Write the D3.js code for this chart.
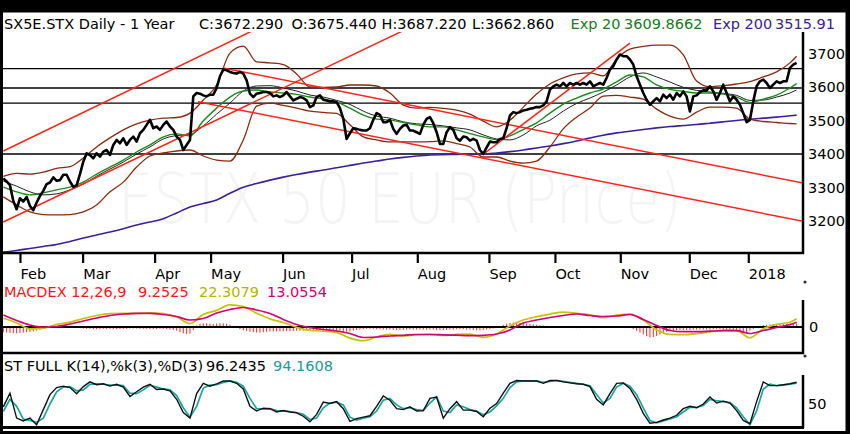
<!DOCTYPE html>
<html>
<head>
<meta charset="utf-8">
<script src="https://cdnjs.cloudflare.com/ajax/libs/d3/7.8.5/d3.min.js"></script>
<style>
    body { margin: 0; background: #000; }
    svg { display: block; }
    text { font-family: "DejaVu Sans", Verdana, sans-serif; }
</style>
</head>
<body>
<svg id="chart"></svg>
<script>
// daily closes, one per bar (index 0 = late Jan 2017)
var price = [
    3327, 3318, 3307, 3260, 3235, 3268, 3258, 3272, 3245, 3232,
    3255, 3275, 3290, 3310, 3315, 3330, 3320, 3322, 3338, 3338,
    3318, 3302, 3306, 3340, 3377, 3402, 3397, 3387, 3402, 3392,
    3407, 3412, 3397, 3427, 3442, 3432, 3447, 3427, 3442, 3452,
    3437, 3462, 3472, 3487, 3502, 3477, 3482, 3472, 3487, 3497,
    3482, 3472, 3452, 3442, 3412, 3427, 3442, 3572, 3582, 3580,
    3575, 3572, 3577, 3577, 3597, 3632, 3652, 3650, 3645, 3642,
    3640, 3645, 3640, 3620, 3580, 3570, 3580, 3582, 3585, 3585,
    3582, 3572, 3575, 3570, 3575, 3585, 3572, 3560, 3565, 3570,
    3567, 3560, 3540, 3545, 3570, 3575, 3562, 3560, 3557, 3557,
    3555, 3537, 3505, 3445, 3462, 3477, 3475, 3472, 3470, 3470,
    3477, 3502, 3522, 3517, 3495, 3495, 3502, 3475, 3460, 3475,
    3485, 3487, 3470, 3470, 3465, 3460, 3487, 3505, 3510, 3492,
    3465, 3430, 3430, 3465, 3480, 3472, 3447, 3440, 3452, 3450,
    3440, 3445, 3440, 3412, 3400, 3420, 3437, 3435, 3435, 3445,
    3447, 3477, 3515, 3525, 3522, 3525, 3530, 3532, 3535, 3537,
    3540, 3540, 3545, 3557, 3592, 3602, 3607, 3602, 3612, 3602,
    3612, 3607, 3612, 3607, 3612, 3607, 3617, 3602, 3607, 3612,
    3607, 3627, 3652, 3662, 3682, 3697, 3692, 3692, 3682, 3667,
    3632, 3607, 3582, 3562, 3547, 3557, 3567, 3557, 3577, 3567,
    3577, 3562, 3582, 3572, 3587, 3572, 3527, 3572, 3575, 3585,
    3590, 3590, 3602, 3587, 3562, 3582, 3607, 3582, 3557, 3572,
    3562, 3547, 3522, 3495, 3502, 3557, 3602, 3617, 3622, 3612,
    3597, 3607, 3617, 3612, 3617, 3617, 3657, 3667, 3672.29
];

// smooth studies are read every 4 bars
var knots = d3.range(0, 237, 4).concat([238]);

var ema20 = [3301, 3287, 3278, 3284, 3293, 3301, 3316, 3340, 3361, 3382,
    3406, 3427, 3451, 3460, 3454, 3499, 3537, 3570, 3588, 3591,
    3585, 3582, 3578, 3570, 3564, 3555, 3537, 3516, 3504, 3501,
    3494, 3487, 3481, 3481, 3472, 3461, 3451, 3443, 3454, 3473,
    3493, 3522, 3549, 3567, 3582, 3594, 3615, 3636, 3630, 3606,
    3593, 3587, 3582, 3582, 3579, 3570, 3554, 3564, 3576, 3597, 3610];

var sma20 = [3319, 3304, 3287, 3278, 3281, 3293, 3310, 3334, 3355, 3376,
    3400, 3421, 3445, 3455, 3458, 3484, 3519, 3552, 3588, 3603,
    3604, 3597, 3588, 3576, 3570, 3560, 3548, 3528, 3513, 3507,
    3496, 3490, 3488, 3484, 3478, 3472, 3457, 3445, 3442, 3457,
    3484, 3501, 3528, 3551, 3567, 3585, 3606, 3630, 3642, 3630,
    3615, 3599, 3590, 3585, 3581, 3575, 3560, 3561, 3570, 3582, 3591];

var bbUpper = [3333, 3342, 3340, 3346, 3357, 3362, 3388, 3421, 3448, 3472,
    3490, 3501, 3507, 3509, 3522, 3561, 3606, 3701, 3722, 3675,
    3672, 3667, 3639, 3600, 3599, 3600, 3606, 3606, 3603, 3582,
    3546, 3537, 3539, 3536, 3531, 3519, 3498, 3481, 3501, 3540,
    3579, 3609, 3627, 3639, 3642, 3633, 3684, 3713, 3721, 3725,
    3725, 3696, 3618, 3601, 3604, 3609, 3616, 3630, 3645, 3672, 3692];

var bbLower = [3272, 3248, 3227, 3219, 3218, 3219, 3227, 3248, 3287, 3316,
    3361, 3394, 3403, 3409, 3412, 3394, 3382, 3379, 3442, 3543,
    3552, 3545, 3537, 3528, 3524, 3521, 3487, 3451, 3442, 3436,
    3436, 3436, 3437, 3439, 3431, 3421, 3391, 3391, 3379, 3373,
    3379, 3421, 3475, 3510, 3537, 3573, 3575, 3570, 3564, 3534,
    3513, 3504, 3525, 3540, 3540, 3537, 3504, 3497, 3494, 3491, 3490];

var ema200 = [3107, 3112, 3118, 3124, 3130, 3139, 3149, 3158, 3167, 3177,
    3188, 3197, 3207, 3224, 3242, 3252, 3263, 3283, 3301, 3312,
    3322, 3331, 3339, 3346, 3352, 3359, 3366, 3373, 3379, 3385,
    3390, 3394, 3397, 3398, 3399, 3400, 3400, 3403, 3407, 3412,
    3418, 3424, 3431, 3439, 3448, 3456, 3463, 3468, 3473, 3478,
    3482, 3485, 3488, 3492, 3496, 3500, 3504, 3507, 3510, 3514, 3516];

var macd = [23.5, 11, -5, -3, 7, 13, 23, 31, 36, 37,
    37, 38, 36, 27, 9, 34, 45, 60, 55, 37,
    22, 12, -1, -9, -11, -15, -30, -37, -27, -20,
    -24, -21, -20, -23, -20, -19, -28, -19, 3, 19,
    28, 35, 40, 37, 33, 25, 32, 35, 19, -8,
    -20, -21, -18, -13, -9, -10, -29, -5, 7, 13, 22.3];

var signal = [32.4, 17.6, 5.4, -0.5, 1.4, 8.1, 16.2, 24.3, 31.1, 35.1,
    37, 37, 33.8, 28.4, 18.9, 23, 37.8, 47.3, 52.7, 46,
    36.5, 20.3, 6.8, -1.4, -6.8, -10.8, -17.6, -28.4, -27, -24.3,
    -22.4, -20.3, -20.3, -21.1, -22.2, -23.2, -22.4, -18.9, -8.1, 10.8,
    18.9, 25.7, 31.1, 35.1, 31.1, 28.4, 29.7, 33.8, 20.3, 4.1,
    -9.5, -12.7, -12.7, -11.4, -10, -10, -17.6, -9.5, -1.4, 6.8, 13.06];

// histogram, one per bar
var hist = [
    -14, -15, -16, -17, -17, -16, -15, -14, -13, -12, -10, -8,
    -5, -3, -1, 1, 2, 2, 2, 1, 0, -1, -2, -3,
    -4, -5, -5, -6, -6, -6, -5, -5, -5, -6, -6, -6, -5, -5, -4, -4, -4, -5, -5, -5, -6, -6, -6, -5, -5, -6, -7, -8, -10,
    -14, -17, -19, -18, -8, 4,
    8, 10, 10, 9, 8, 9, 10, 10, 9, 6, 3,
    -2, -6, -9, -11, -13, -14, -15, -15, -14, -13, -12, -12, -12, -12, -12, -11, -11, -11, -10, -10, -10, -10, -9, -9, -9, -9, -9, -10, -11, -12, -13,
    -14, -14, -13, -12, -10, -8, -7, -6, -5, -5, -5, -6, -6, -7, -7, -7, -8, -8, -8, -8, -7, -7, -7, -7, -7, -7, -7,
    -7, -7, -8, -8, -8, -8, -7, -7, -6, -6, -6, -7, -7, -8, -9, -9, -8, -7, -6, -4, -1, 3, 6, 9,
    11, 12, 12, 11, 10, 9, 8, 7, 6,
    5, 4, 3, 2, 2, 1, 1, 0, -1, -2, -3, -3, -3, -2, -2, -2, -3, -3, -2, -1, 0, 1, 2, 2, 1, 0, -1, -3, -6,
    -10, -15, -20, -25, -28, -27, -24, -20, -16,
    -13, -11, -10, -9, -8, -8, -8, -8, -7, -7, -7, -7, -7, -7, -6, -6, -6, -7, -8, -9, -10, -12, -14, -15, -14, -10,
    -5, 0, 3, 5, 6, 7, 8, 8, 8, 8, 8, 8, 9, 9
];

// stochastics read every 2 bars
var stochIdx = d3.range(0, 239, 2);
var stochK = [44, 73, 20, 14, 20, 6, 38, 70, 85, 88,
    85, 72, 87, 97, 91, 93, 88, 92, 86, 66,
    76, 86, 92, 81, 82, 78, 60, 32, 20, 72,
    94, 88, 93, 99, 99, 94, 82, 45, 35, 41,
    40, 33, 36, 33, 31, 24, 12, 28, 54, 51,
    55, 40, 13, 19, 22, 25, 45, 67, 58, 40,
    38, 44, 35, 36, 62, 65, 20, 40, 55, 37,
    37, 34, 23, 41, 51, 73, 94, 100, 99, 99,
    99, 94, 100, 100, 97, 95, 93, 92, 87, 60,
    48, 72, 94, 95, 83, 60, 30, 9, 11, 16,
    20, 26, 40, 45, 42, 50, 65, 52, 56, 52,
    36, 15, 8, 55, 97, 89, 89, 91, 93, 96.24];
var stochD = [34, 60, 45, 18, 15, 11, 20, 50, 76, 86,
    87, 78, 80, 92, 93, 92, 90, 90, 89, 73,
    72, 80, 90, 86, 82, 80, 68, 42, 22, 45,
    84, 90, 91, 96, 99, 96, 88, 62, 40, 39,
    40, 36, 35, 34, 32, 28, 17, 20, 42, 52,
    54, 48, 22, 16, 20, 23, 35, 58, 62, 48,
    40, 42, 38, 36, 52, 65, 35, 32, 48, 44,
    38, 35, 27, 33, 46, 62, 85, 97, 99, 99,
    99, 96, 98, 100, 98, 96, 94, 92, 89, 70,
    52, 62, 86, 94, 88, 70, 42, 15, 10, 14,
    18, 23, 33, 43, 43, 47, 60, 57, 55, 53,
    42, 23, 6, 35, 82, 92, 89, 90, 92, 94.16];

// drawn trend lines: [bar, value, bar, value]
var trendLines = [
    [0, 3409, 90, 3841],
    [0, 3197, 130, 3816],
    [144.5, 3403, 188, 3731],
    [65.9, 3657, 240, 3313],
    [58.4, 3556, 240, 3199]
];
var levels = [3655, 3597, 3552, 3400];

var monthIdx = [5, 23.8, 45.4, 62.2, 83.8, 104.5, 124.2, 145.7, 165.5, 185.1, 205.8, 223.5];
var monthLabels = ["Feb", "Mar", "Apr", "May", "Jun", "Jul", "Aug", "Sep", "Oct", "Nov", "Dec", "2018"];
var priceTicks = [3200, 3300, 3400, 3500, 3600, 3700];

var svg = d3.select("#chart")
    .attr("width", 850)
    .attr("height", 434)
    .style("background", "#fff");

var plotLeft = 3, plotRight = 803;
var x = d3.scaleLinear().domain([0, price.length - 1]).range([3.3, 796.6]);
var y = d3.scaleLinear().domain([3400, 3700]).range([154, 53.5]);
var yMacd = d3.scaleLinear().domain([-70, 70]).range([352.9, 301.1]);
var yStoch = d3.scaleLinear().domain([0, 100]).range([427.5, 380.5]);

var defs = svg.append("defs");
defs.append("clipPath").attr("id", "clipMain").append("rect")
    .attr("x", plotLeft).attr("y", 32).attr("width", plotRight - plotLeft).attr("height", 221);
defs.append("clipPath").attr("id", "clipMacd").append("rect")
    .attr("x", plotLeft).attr("y", 299).attr("width", plotRight - plotLeft).attr("height", 53);
defs.append("clipPath").attr("id", "clipStoch").append("rect")
    .attr("x", plotLeft).attr("y", 374).attr("width", plotRight - plotLeft).attr("height", 53);

// watermark, squeezed horizontally
svg.append("text")
    .attr("transform", "translate(118,223) scale(0.8,1)")
    .style("font-size", "70px")
    .style("font-weight", 200)
    .attr("fill", "#f4f4f4")
    .text("ESTX 50 EUR (Price)");

var main = svg.append("g").attr("clip-path", "url(#clipMain)");

main.selectAll(".level")
    .data(levels)
    .enter().append("line")
    .attr("x1", plotLeft).attr("x2", plotRight)
    .attr("y1", function (d) { return y(d); })
    .attr("y2", function (d) { return y(d); })
    .attr("stroke", "#000")
    .attr("stroke-width", 1.3);

function knotLine(scale) {
    return d3.line()
        .x(function (d, i) { return x(knots[i]); })
        .y(function (d) { return scale(d); })
        .curve(d3.curveMonotoneX);
}

main.append("path").datum(ema200)
    .attr("fill", "none").attr("stroke", "#3c1fa0").attr("stroke-width", 1.6)
    .attr("d", knotLine(y));

main.selectAll(".bb")
    .data([bbUpper, bbLower])
    .enter().append("path")
    .attr("fill", "none").attr("stroke", "#8b2b0e").attr("stroke-width", 1.3)
    .attr("d", knotLine(y));

main.append("path").datum(sma20)
    .attr("fill", "none").attr("stroke", "#222").attr("stroke-width", 1)
    .attr("d", knotLine(y));

main.append("path").datum(ema20)
    .attr("fill", "none").attr("stroke", "#1b8a1b").attr("stroke-width", 1.4)
    .attr("d", knotLine(y));

main.selectAll(".trend")
    .data(trendLines)
    .enter().append("line")
    .attr("x1", function (d) { return x(d[0]); })
    .attr("y1", function (d) { return y(d[1]); })
    .attr("x2", function (d) { return x(d[2]); })
    .attr("y2", function (d) { return y(d[3]); })
    .attr("stroke", "#ff2418")
    .attr("stroke-width", 1.5);

main.append("path").datum(price)
    .attr("fill", "none").attr("stroke", "#000").attr("stroke-width", 2.6)
    .attr("stroke-linejoin", "round")
    .attr("d", d3.line()
        .x(function (d, i) { return x(i); })
        .y(function (d) { return y(d); }));

// main axes
svg.append("line").attr("x1", plotLeft).attr("x2", plotRight + 1).attr("y1", 253).attr("y2", 253)
    .attr("stroke", "#000").attr("stroke-width", 2.5);
svg.append("line").attr("x1", plotRight).attr("x2", plotRight).attr("y1", 32).attr("y2", 254)
    .attr("stroke", "#000").attr("stroke-width", 2.5);

var xAxisG = svg.append("g")
    .attr("class", "xAxisG")
    .attr("transform", "translate(0,253)")
    .call(d3.axisBottom(x).tickValues(monthIdx)
        .tickFormat(function (d, i) { return monthLabels[i]; })
        .tickSize(10).tickPadding(5.7));
xAxisG.select(".domain").remove();
xAxisG.selectAll("line").attr("stroke-width", 2.2);
xAxisG.selectAll("text")
    .attr("text-anchor", "start")
    .attr("x", 0)
    .attr("fill", "#000")
    .style("font-size", "14.5px")
    .style("font-family", "DejaVu Sans");

var yAxisG = svg.append("g")
    .attr("class", "yAxisG")
    .attr("transform", "translate(" + plotRight + ",0)")
    .call(d3.axisRight(y).tickValues(priceTicks).tickFormat(d3.format("d")).tickSize(0).tickPadding(5));
yAxisG.select(".domain").remove();
yAxisG.selectAll("text")
    .attr("fill", "#000")
    .style("font-size", "14.5px")
    .style("font-family", "DejaVu Sans");

// MACD panel
var macdG = svg.append("g").attr("clip-path", "url(#clipMacd)");

macdG.selectAll(".hist")
    .data(hist)
    .enter().append("line")
    .attr("x1", function (d, i) { return x(i); })
    .attr("x2", function (d, i) { return x(i); })
    .attr("y1", yMacd(0))
    .attr("y2", function (d) { return yMacd(d); })
    .attr("stroke", "#ff2a2a")
    .attr("stroke-width", 1);

macdG.append("line").attr("x1", plotLeft).attr("x2", plotRight).attr("y1", yMacd(0)).attr("y2", yMacd(0))
    .attr("stroke", "#000").attr("stroke-width", 2);

macdG.append("path").datum(macd)
    .attr("fill", "none").attr("stroke", "#c4c400").attr("stroke-width", 1.7)
    .attr("d", knotLine(yMacd));
macdG.append("path").datum(signal)
    .attr("fill", "none").attr("stroke", "#d4007a").attr("stroke-width", 1.7)
    .attr("d", knotLine(yMacd));

svg.append("line").attr("x1", plotLeft).attr("x2", plotRight + 1).attr("y1", 353).attr("y2", 353)
    .attr("stroke", "#000").attr("stroke-width", 2.5);
svg.append("line").attr("x1", plotRight).attr("x2", plotRight).attr("y1", 300).attr("y2", 354)
    .attr("stroke", "#000").attr("stroke-width", 2.5);

var macdAxisG = svg.append("g")
    .attr("transform", "translate(" + plotRight + ",0)")
    .call(d3.axisRight(yMacd).tickValues([0]).tickFormat(d3.format("d")).tickSize(0).tickPadding(6));
macdAxisG.select(".domain").remove();
macdAxisG.selectAll("text").attr("fill", "#000").style("font-size", "14.5px").style("font-family", "DejaVu Sans");

// stochastic panel
var stochG = svg.append("g").attr("clip-path", "url(#clipStoch)");
var stochLine = d3.line()
    .x(function (d, i) { return x(stochIdx[i]); })
    .y(function (d) { return yStoch(d); });

stochG.append("path").datum(stochD)
    .attr("fill", "none").attr("stroke", "#1ba5a0").attr("stroke-width", 1.7)
    .attr("d", stochLine);
stochG.append("path").datum(stochK)
    .attr("fill", "none").attr("stroke", "#111").attr("stroke-width", 1.4)
    .attr("d", stochLine);

svg.append("line").attr("x1", plotLeft).attr("x2", plotRight + 1).attr("y1", 427.5).attr("y2", 427.5)
    .attr("stroke", "#000").attr("stroke-width", 2.8);
svg.append("line").attr("x1", plotRight).attr("x2", plotRight).attr("y1", 375).attr("y2", 428)
    .attr("stroke", "#000").attr("stroke-width", 2.5);

var stochAxisG = svg.append("g")
    .attr("transform", "translate(" + plotRight + ",0)")
    .call(d3.axisRight(yStoch).tickValues([50]).tickFormat(d3.format("d")).tickSize(0).tickPadding(5));
stochAxisG.select(".domain").remove();
stochAxisG.selectAll("text").attr("fill", "#000").style("font-size", "14.5px").style("font-family", "DejaVu Sans");

// small handles
svg.selectAll(".handle")
    .data([282, 356])
    .enter().append("circle")
    .attr("cx", 805).attr("cy", function (d) { return d; }).attr("r", 1.6)
    .attr("fill", "#333");

// titles
function titleRow(yPos, parts) {
    parts.forEach(function (p) {
        svg.append("text")
            .attr("x", p[0]).attr("y", yPos)
            .attr("fill", p[2])
            .style("font-size", "14.5px")
            .text(p[1]);
    });
}

titleRow(28.5, [
    [4, "SX5E.STX Daily -  1 Year", "#000"],
    [199, "C:3672.290", "#000"],
    [291.5, "O:3675.440", "#000"],
    [381.5, "H:3687.220", "#000"],
    [472, "L:3662.860", "#000"],
    [570.5, "Exp 20", "#1d7a1d"],
    [624, "3609.8662", "#1d7a1d"],
    [713, "Exp 200", "#3b2392"],
    [775, "3515.91", "#3b2392"]
]);

titleRow(297, [
    [4, "MACDEX 12,26,9", "#ff1414"],
    [138, "9.2525", "#ff1414"],
    [199, "22.3079", "#b4b400"],
    [267, "13.0554", "#d1006b"]
]);

titleRow(371, [
    [4, "ST FULL K(14),%k(3),%D(3)", "#000"],
    [206, "96.2435", "#000"],
    [273, "94.1608", "#1a9a9a"]
]);

// outer black frame
svg.append("rect").attr("x", 0).attr("y", 0).attr("width", 850).attr("height", 12.5).attr("fill", "#000");
svg.append("rect").attr("x", 0).attr("y", 0).attr("width", 3).attr("height", 434).attr("fill", "#000");
svg.append("rect").attr("x", 845.5).attr("y", 0).attr("width", 4.5).attr("height", 434).attr("fill", "#000");
svg.append("rect").attr("x", 0).attr("y", 431).attr("width", 850).attr("height", 3).attr("fill", "#000");
</script>
</body>
</html>
